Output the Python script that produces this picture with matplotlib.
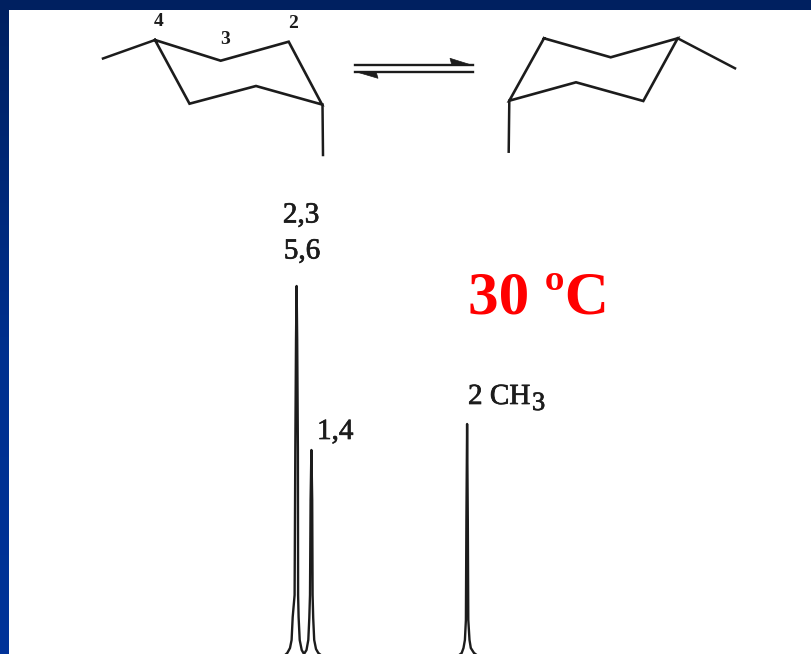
import matplotlib
matplotlib.use("Agg")
import matplotlib.pyplot as plt
import matplotlib.patheffects as pe
import numpy as np

# everything, in image pixels
left_ring_x = [155, 220.7, 288.7, 322, 256, 189.5, 155]
left_ring_y = [40, 60.7, 41.7, 104.5, 86, 103.7, 40]
left_subs = [([103, 155], [58.5, 40]), ([322.5, 323], [104.5, 155])]

right_ring_x = [544, 610.7, 677.7, 643.3, 576, 509.3, 544]
right_ring_y = [38.3, 57.3, 38.3, 101, 82.3, 100.7, 38.3]
right_subs = [([677.7, 735], [38.3, 68.3]), ([509.3, 508.7], [100.7, 151.7])]

# spectrum trace
peak_x = [284, 287.3, 290, 291.6, 292.7, 294.6, 295.3, 296.0, 296.6, 297.2, 297.9, 298.1, 298.6, 299.7, 301.7, 304, 306.5, 308.3, 309.3, 310.0, 310.6, 311.4, 312.2, 312.6, 313.2, 314.2, 316, 318.3, 322]
peak_y = [656, 653, 648, 640, 617, 595, 450, 340, 286, 340, 450, 595, 617, 640, 650, 654, 650, 640, 618, 595, 500, 450, 500, 595, 618, 640, 649, 653, 656]
ch3_x = [458, 461.7, 463.5, 464.9, 465.9, 466.4, 467.1, 467.8, 468.3, 469.5, 470.8, 474, 478]
ch3_y = [656, 653, 648, 640, 620, 520, 424, 520, 620, 640, 648, 653, 656]

arrow_top_x = [355, 473]
arrow_top_y = [65, 65]
arrow_top_head_x = [450, 473, 452]
arrow_top_head_y = [58.3, 65.5, 65.5]
arrow_low_x = [355, 473]
arrow_low_y = [71.7, 71.7]
arrow_low_head_x = [355, 378, 376]
arrow_low_head_y = [71.5, 78.3, 71.5]

atom_labels = ["4", "3", "2"]
atom_x = [159, 225, 293]
atom_y = [21, 40, 23]

INK = "#1c1c1c"

fig = plt.figure(figsize=(8.11, 6.54), dpi=100, facecolor="white")
ax = fig.add_axes([0, 0, 1, 1])

# blue frame, top strip and left strip with gradient
grad = np.linspace(0, 1, 256).reshape(-1, 1)
cmap = matplotlib.colors.LinearSegmentedColormap.from_list(
    "frame", [(0, "#002060"), (0.55, "#00308f"), (1, "#003399")])
ax.imshow(grad, extent=[0, 8.5, 654, 0], cmap=cmap, aspect="auto", zorder=1)
ax.fill_between([0, 811], 0, 9.5, color="#002060", lw=0, zorder=2)
ax.set_xlim(0, 811)
ax.set_ylim(654, 0)
ax.axis("off")

for xs, ys, subs in [(left_ring_x, left_ring_y, left_subs), (right_ring_x, right_ring_y, right_subs)]:
    ax.plot(xs, ys, color=INK, lw=1.9, solid_joinstyle="miter", zorder=3)
    for sx, sy in subs:
        ax.plot(sx, sy, color=INK, lw=1.8, zorder=3)

ax.plot(arrow_top_x, arrow_top_y, color=INK, lw=1.7, zorder=3)
ax.fill(arrow_top_head_x, arrow_top_head_y, color=INK, lw=0.5, zorder=3)
ax.plot(arrow_low_x, arrow_low_y, color=INK, lw=1.7, zorder=3)
ax.fill(arrow_low_head_x, arrow_low_head_y, color=INK, lw=0.5, zorder=3)

ax.plot(peak_x, peak_y, color=INK, lw=1.7, zorder=3)
ax.plot(ch3_x, ch3_y, color=INK, lw=1.7, zorder=3)

serif = "Liberation Serif"
heavy = [pe.withStroke(linewidth=0.5, foreground=INK)]


def label(x, y, s, size, ha="left", va="baseline"):
    ax.text(x, y, s, family=serif, fontsize=size, color=INK, ha=ha, va=va, zorder=4, path_effects=heavy)


for lab, x, y in zip(atom_labels, atom_x, atom_y):
    ax.text(x, y, lab, family=serif, fontsize=14, fontweight="bold", color=INK, ha="center", va="center", zorder=4)

label(301, 215.5, "2,3", 21, ha="center", va="center")
label(302, 251.5, "5,6", 21, ha="center", va="center")
label(317, 439, "1,4", 21)
label(468, 404, "2 CH", 21)
label(532, 410, "3", 19)
ax.text(468, 313, "30 ºC", family=serif, fontsize=44, fontweight="bold", color="#ff0000", ha="left", va="baseline", zorder=4)

fig.savefig("out.png", dpi=100)
